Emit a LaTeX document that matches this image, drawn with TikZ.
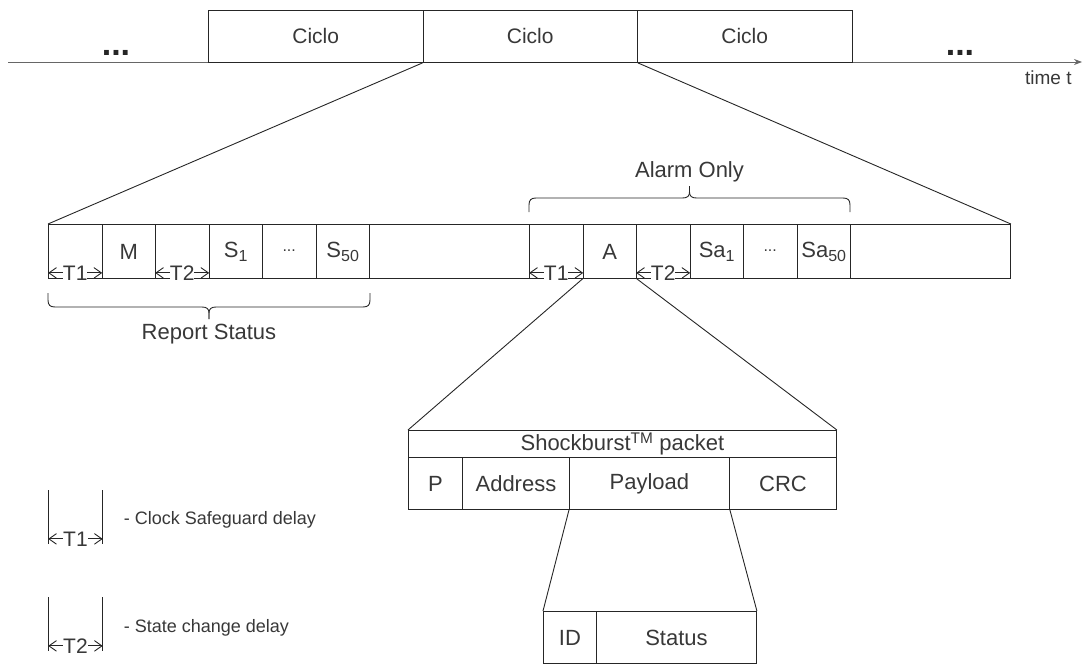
\documentclass[tikz,border=0pt]{standalone}
\usepackage{fontspec}
\setmainfont{Liberation Sans}
\usetikzlibrary{arrows.meta}
\newcommand{\lowsub}[1]{\raisebox{-0.35ex}{\fontsize{16}{16}\selectfont #1}}
\begin{document}
\begin{tikzpicture}[x=1pt,y=-1pt,line width=0.9pt,
  every node/.style={text=black!78,font=\fontsize{22}{26}\selectfont},
  box/.style={draw=black!85,rectangle,inner sep=0pt,anchor=north west},
  cyc/.style={box,minimum width=214.5pt,minimum height=52pt,font=\fontsize{21}{25}\selectfont},
  cell/.style={box,minimum width=53.5pt,minimum height=54pt},
  wide/.style={box,minimum width=160pt,minimum height=54pt},
  pk/.style={box,minimum height=52pt},
  gap/.style={rectangle,inner sep=0pt,anchor=north west,minimum width=54pt,minimum height=53pt},
  chev/.tip={Straight Barb[angle=70:9pt,line width=0.9pt,round=false]},
  delay/.style={draw=black!85,line width=0.9pt,chev-chev,shorten <=0.5pt,shorten >=0.5pt},
  dlabel/.style={fill=white,inner sep=0pt,font=\fontsize{21}{24}\selectfont},
  link/.style={draw=black!85,line width=0.9pt},
  grp/.style={draw=black!85,line width=0.9pt},
  dots/.style={anchor=base,font=\fontsize{34}{34}\selectfont\bfseries,text=black!85},
  legend/.style={anchor=west,font=\fontsize{18}{22}\selectfont}]
\useasboundingbox (0,0) rectangle (1085,664);

% time line with three cycles
\coordinate (tstart) at (8,62);
\coordinate (tend) at (1082,62);
\draw[draw=black!60,line width=0.8pt,-{Stealth[length=8pt,width=6pt]}] (tstart) -- (tend);
\node[cyc] (c1) at (208,10) {Ciclo};
\node[cyc] (c2) at (422.5,10) {Ciclo};
\node[cyc] (c3) at (637,10) {Ciclo};
\node[dots] (dl) at (116,55) {...};
\node[dots] (dr) at (960,55) {...};
\node[anchor=north east,font=\fontsize{19}{22}\selectfont,inner sep=0pt] (tt) at (1072,70) {time t};

% one cycle in detail
\node[cell] (r1) at (48,224) {};
\node[cell] (r2) at (101.5,224) {M};
\node[cell] (r3) at (155,224) {};
\node[cell] (r4) at (208.5,224) {S\lowsub{1}};
\node[cell] (r5) at (262,224) {\fontsize{16}{16}\selectfont\raisebox{2pt}{...}};
\node[cell] (r6) at (315.5,224) {S\lowsub{50}};
\node[wide] (e1) at (369,224) {};
\node[cell] (a1) at (529,224) {};
\node[cell] (a2) at (582.5,224) {A};
\node[cell] (a3) at (636,224) {};
\node[cell] (a4) at (689.5,224) {Sa\lowsub{1}};
\node[cell] (a5) at (743,224) {\fontsize{16}{16}\selectfont\raisebox{2pt}{...}};
\node[cell] (a6) at (796.5,224) {Sa\lowsub{50}};
\node[wide] (e2) at (850,224) {};

\draw[delay] ([yshift=6pt]r1.south west) -- ([yshift=6pt]r1.south east) node[midway,dlabel] {T1};
\draw[delay] ([yshift=6pt]r3.south west) -- ([yshift=6pt]r3.south east) node[midway,dlabel] {T2};
\draw[delay] ([yshift=6pt]a1.south west) -- ([yshift=6pt]a1.south east) node[midway,dlabel] {T1};
\draw[delay] ([yshift=6pt]a3.south west) -- ([yshift=6pt]a3.south east) node[midway,dlabel] {T2};

\draw[link] (c2.south west) -- (r1.north west);
\draw[link] (c2.south east) -- (e2.north east);

% group brackets
\draw[grp] (48,293) -- (48,300) .. controls (48,305) and (50,307) .. (55,307) -- (202,307)
  .. controls (207,307) and (209,309) .. (209,313) -- (209,319);
\draw[grp] (209,319) -- (209,313) .. controls (209,309) and (211,307) .. (216,307) -- (363,307)
  .. controls (368,307) and (370,305) .. (370,300) -- (370,293);
\node (rs) at (209,334) {Report Status};
\draw[grp] (529,212) -- (529,205) .. controls (529,200) and (531,198) .. (536,198) -- (682.5,198)
  .. controls (687.5,198) and (689.5,196) .. (689.5,192) -- (689.5,186);
\draw[grp] (689.5,186) -- (689.5,192) .. controls (689.5,196) and (691.5,198) .. (696.5,198) -- (843,198)
  .. controls (848,198) and (850,200) .. (850,205) -- (850,212);
\node (ao) at (689.5,172) {Alarm Only};

% packet
\node[box,minimum width=428pt,minimum height=27pt] (sb) at (408,430) {Shockburst\textsuperscript{TM} packet};
\node[pk,minimum width=54pt] (p) at (408,457) {P};
\node[pk,minimum width=107pt] (ad) at (462,457) {Address};
\node[pk,minimum width=160pt] (pl) at (569,457) {Payload};
\node[pk,minimum width=107pt] (crc) at (729,457) {CRC};
\draw[link] (a2.south west) -- (sb.north west);
\draw[link] (a2.south east) -- (sb.north east);

% payload
\node[pk,minimum width=53pt] (id) at (543,611) {ID};
\node[pk,minimum width=160pt] (st) at (596,611) {Status};
\draw[link] (pl.south west) -- (id.north west);
\draw[link] (pl.south east) -- (st.north east);

% legend
\node[gap] (g1) at (48,490) {};
\draw[link] (g1.north west) -- (g1.south west);
\draw[link] (g1.north east) -- (g1.south east);
\draw[delay] ([yshift=5pt]g1.south west) -- ([yshift=5pt]g1.south east) node[midway,dlabel] {T1};
\node[legend] (l1) at (120,520) {- Clock Safeguard delay};
\node[gap] (g2) at (48,597) {};
\draw[link] (g2.north west) -- (g2.south west);
\draw[link] (g2.north east) -- (g2.south east);
\draw[delay] ([yshift=5pt]g2.south west) -- ([yshift=5pt]g2.south east) node[midway,dlabel] {T2};
\node[legend] (l2) at (120,628) {- State change delay};
\end{tikzpicture}
\end{document}
